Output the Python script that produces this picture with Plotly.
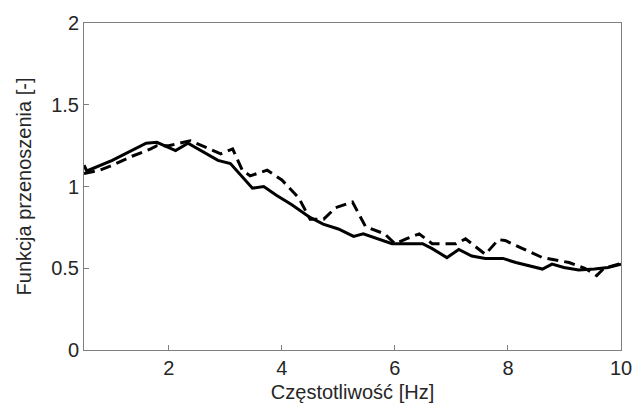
import plotly.graph_objects as go

# Solid series
solid_x = [0.5, 0.55, 1.0, 1.6, 1.79, 2.12, 2.34, 2.87, 3.09, 3.48, 3.68, 3.91,
           4.17, 4.48, 4.73, 5.0, 5.27, 5.44, 5.95, 6.49, 6.66, 6.92, 7.13, 7.36,
           7.6, 7.91, 8.14, 8.38, 8.61, 8.78, 8.99, 9.25, 9.53, 9.77, 10.0]
solid_y = [1.13, 1.095, 1.16, 1.265, 1.27, 1.22, 1.265, 1.16, 1.14, 0.99, 1.0, 0.945,
           0.89, 0.815, 0.77, 0.74, 0.695, 0.71, 0.65, 0.65, 0.62, 0.565, 0.615, 0.575,
           0.56, 0.56, 0.535, 0.515, 0.495, 0.525, 0.505, 0.49, 0.495, 0.505, 0.525]

# Dashed series
dash_x = [0.5, 0.78, 1.0, 1.35, 1.68, 1.79, 2.0, 2.38, 2.92, 3.13, 3.3, 3.44, 3.74,
          4.0, 4.3, 4.5, 4.74, 4.95, 5.25, 5.48, 5.82, 6.0, 6.2, 6.43, 6.66, 7.08,
          7.25, 7.6, 7.83, 7.95, 8.26, 8.61, 9.08, 9.36, 9.57, 9.7, 10.0]
dash_y = [1.08, 1.10, 1.13, 1.185, 1.23, 1.25, 1.25, 1.28, 1.20, 1.23, 1.10, 1.065, 1.10,
          1.04, 0.93, 0.80, 0.80, 0.87, 0.905, 0.755, 0.71, 0.65, 0.68, 0.71, 0.65, 0.65,
          0.68, 0.585, 0.675, 0.67, 0.62, 0.565, 0.535, 0.50, 0.455, 0.50, 0.53]

x_ticks = [2, 4, 6, 8, 10]
y_ticks = [0, 0.5, 1, 1.5, 2]
y_tick_text = ["0", "0.5", "1", "1.5", "2"]

fig = go.Figure()
fig.add_trace(go.Scatter(x=dash_x, y=dash_y, mode="lines",
                         line=dict(color="black", width=3, dash="11px,6px"),
                         showlegend=False))
fig.add_trace(go.Scatter(x=solid_x, y=solid_y, mode="lines",
                         line=dict(color="black", width=3),
                         showlegend=False))

font_family = "Liberation Sans, Arial, sans-serif"
fig.update_layout(
    width=644, height=411,
    margin=dict(l=84, r=14, t=22, b=55),
    paper_bgcolor="white", plot_bgcolor="white",
    font=dict(family=font_family, size=20, color="#262626"),
    xaxis=dict(range=[0.5, 10], tickvals=x_ticks, ticktext=[str(v) for v in x_ticks],
               showgrid=False, zeroline=False, showline=True, linecolor="#7f7f7f",
               linewidth=1, mirror=True, ticks="inside", ticklen=5, tickcolor="#7f7f7f",
               tickfont=dict(size=20),
               title=dict(text="Częstotliwość [Hz]", font=dict(size=20), standoff=6)),
    yaxis=dict(range=[0, 2], tickvals=y_ticks, ticktext=y_tick_text,
               showgrid=False, zeroline=False, showline=True, linecolor="#7f7f7f",
               linewidth=1, mirror=True, ticks="inside", ticklen=5, tickcolor="#7f7f7f",
               tickfont=dict(size=20),
               title=dict(text="Funkcja przenoszenia [-]", font=dict(size=20), standoff=14)),
)

fig.write_html("out.html")
